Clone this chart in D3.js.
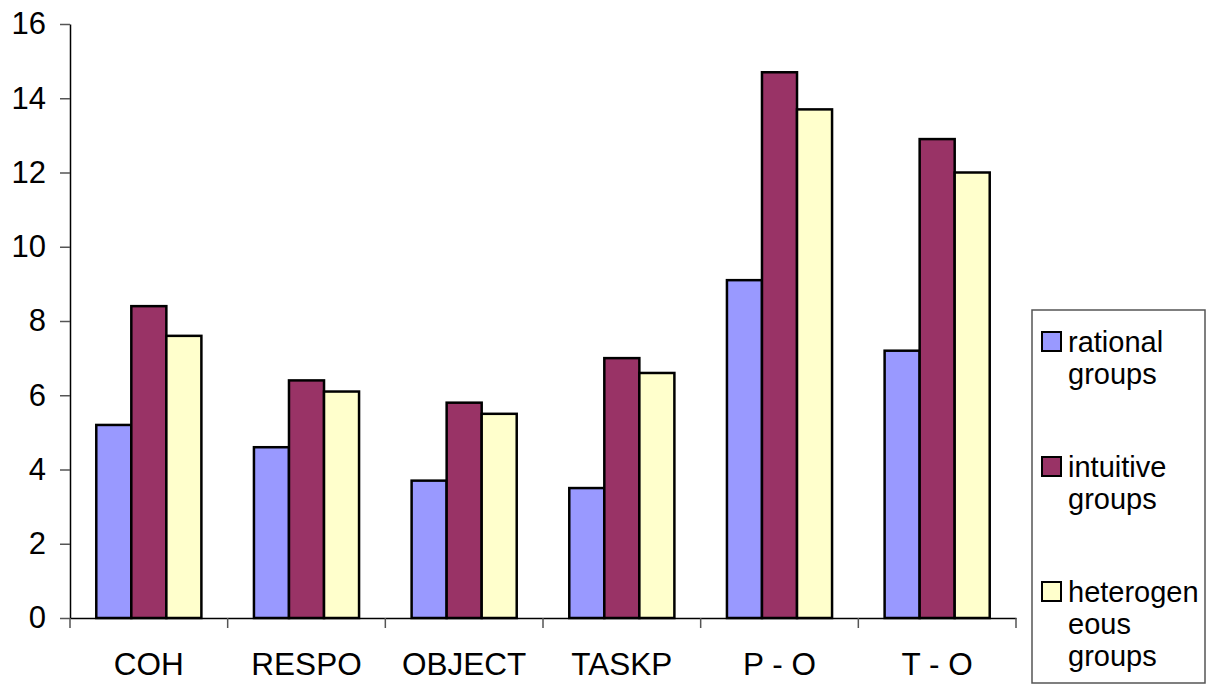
<!DOCTYPE html>
<html>
<head>
<meta charset="utf-8">
<script src="https://cdn.jsdelivr.net/npm/d3@7"></script>
<style>
  html, body { margin: 0; padding: 0; background: #fff; }
  svg { display: block; font-family: "Liberation Sans", Arial, sans-serif; }
</style>
</head>
<body>
<svg id="chart" width="1213" height="686"></svg>
<script>
// Category labels along the x axis
const categories = ["COH", "RESPO", "OBJECT", "TASKP", "P - O", "T - O"];

// Series names (legend lines) and fills
const seriesNames = ["rational groups", "intuitive groups", "heterogeneous groups"];
const seriesLegendLines = [["rational", "groups"], ["intuitive", "groups"], ["heterogen", "eous", "groups"]];
const seriesColors = ["#9999FF", "#993366", "#FFFFCC"];

// Values per series, one per category
const rational = [5.2, 4.6, 3.7, 3.5, 9.1, 7.2];
const intuitive = [8.4, 6.4, 5.8, 7.0, 14.7, 12.9];
const heterogeneous = [7.6, 6.1, 5.5, 6.6, 13.7, 12.0];
const seriesValues = [rational, intuitive, heterogeneous];

// Y axis ticks
const yTicks = [0, 2, 4, 6, 8, 10, 12, 14, 16];

const svg = d3.select("#chart");
const plot = { left: 70, right: 1016, top: 24, bottom: 618 };

const y = d3.scaleLinear().domain([0, 16]).range([plot.bottom, plot.top]);
const x0 = d3.scaleBand().domain(categories).range([plot.left, plot.right]).padding(0);
const bw = x0.bandwidth();
const x1 = d3.scaleBand().domain(d3.range(seriesNames.length)).range([bw / 6, bw * 5 / 6]).padding(0);

// Bars
const groups = svg.append("g").selectAll("g")
  .data(categories)
  .join("g")
  .attr("transform", d => `translate(${x0(d)},0)`);

groups.selectAll("rect")
  .data((c, ci) => seriesValues.map((vals, si) => ({ si, v: vals[ci] })))
  .join("rect")
  .attr("x", d => x1(d.si))
  .attr("width", x1.bandwidth())
  .attr("y", d => y(d.v))
  .attr("height", d => y(0) - y(d.v))
  .attr("fill", d => seriesColors[d.si])
  .attr("stroke", "#000")
  .attr("stroke-width", 2.5);

// Y axis
const yAxis = svg.append("g")
  .attr("transform", `translate(${plot.left},0)`)
  .call(d3.axisLeft(y).tickValues(yTicks).tickSize(10).tickSizeOuter(0).tickPadding(14));
yAxis.select(".domain").attr("stroke", "#000").attr("stroke-width", 1.5);
yAxis.selectAll(".tick line").attr("stroke", "#555").attr("stroke-width", 1.5);
yAxis.selectAll("text").attr("font-size", 31).attr("fill", "#000")
  .attr("font-family", "'Liberation Sans', Arial, sans-serif");

// X axis: labels centred under each category, ticks on category boundaries
const xAxis = svg.append("g")
  .attr("transform", `translate(0,${plot.bottom})`)
  .call(d3.axisBottom(x0).tickSize(0).tickSizeOuter(0).tickPadding(35));
xAxis.select(".domain").attr("stroke", "#000").attr("stroke-width", 1.5);
xAxis.selectAll("text").attr("font-size", 31.5).attr("fill", "#000")
  .attr("font-family", "'Liberation Sans', Arial, sans-serif");

const boundaries = categories.map(c => x0(c)).concat([x0(categories[categories.length - 1]) + bw]);
xAxis.selectAll(".bound")
  .data(boundaries)
  .join("line")
  .attr("class", "bound")
  .attr("x1", d => d).attr("x2", d => d)
  .attr("y1", 0).attr("y2", 10)
  .attr("stroke", "#555").attr("stroke-width", 1.5);

// Legend
const legend = svg.append("g");
legend.append("rect")
  .attr("x", 1032).attr("y", 310)
  .attr("width", 173).attr("height", 373)
  .attr("fill", "#fff")
  .attr("stroke", "#555").attr("stroke-width", 1.5);

const entryBaselines = d3.range(seriesNames.length).map(i => 352 + i * 125);
const entries = legend.selectAll("g.entry")
  .data(seriesNames)
  .join("g")
  .attr("class", "entry");

entries.append("rect")
  .attr("x", 1042)
  .attr("y", (d, i) => entryBaselines[i] - 20)
  .attr("width", 19).attr("height", 19)
  .attr("fill", (d, i) => seriesColors[i])
  .attr("stroke", "#000").attr("stroke-width", 2);

entries.append("text")
  .attr("x", 1068)
  .attr("y", (d, i) => entryBaselines[i])
  .attr("font-size", 29)
  .attr("fill", "#000")
  .selectAll("tspan")
  .data((d, i) => seriesLegendLines[i])
  .join("tspan")
  .attr("x", 1068)
  .attr("dy", (d, j) => j === 0 ? 0 : 32)
  .text(d => d);
</script>
</body>
</html>
